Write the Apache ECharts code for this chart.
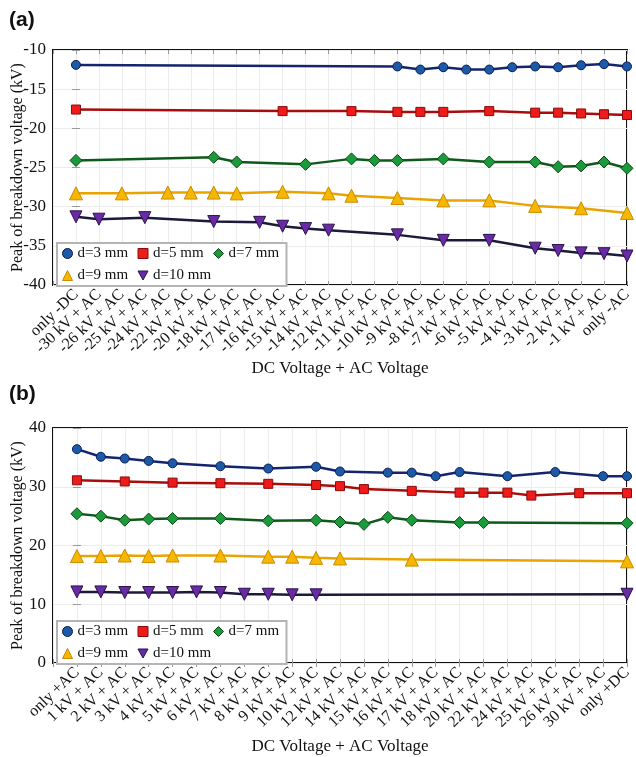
<!DOCTYPE html>
<html>
<head>
<meta charset="utf-8">
<script src="https://cdn.jsdelivr.net/npm/echarts@6/dist/echarts.min.js"></script>
<style>
  html, body { margin: 0; padding: 0; background: #fff; }
  #chart { width: 636px; height: 757px; }
</style>
</head>
<body>
<div id="chart"></div>
<script>
// Panel (a): negative DC bias combined with AC
const catsA = ['only -DC', '-30 kV + AC', '-26 kV + AC', '-25 kV + AC', '-24 kV + AC', '-22 kV + AC',
  '-20 kV + AC', '-18 kV + AC', '-17 kV + AC', '-16 kV + AC', '-15 kV + AC', '-14 kV + AC',
  '-12 kV + AC', '-11 kV + AC', '-10 kV + AC', '-9 kV + AC', '-8 kV + AC', '-7 kV + AC',
  '-6 kV + AC', '-5 kV + AC', '-4 kV + AC', '-3 kV + AC', '-2 kV + AC', '-1 kV + AC', 'only -AC'];
const _ = null;
const a3  = [-11.9, _, _, _, _, _, _, _, _, _, _, _, _, _, -12.1, -12.5, -12.2, -12.5, -12.5, -12.2, -12.1, -12.2, -11.95, -11.8, -12.1];
const a5  = [-17.6, _, _, _, _, _, _, _, _, -17.8, _, _, -17.8, _, -17.9, -17.9, -17.9, _, -17.8, _, -18.0, -18.0, -18.1, -18.2, -18.3];
const a7  = [-24.1, _, _, _, _, _, -23.7, -24.3, _, _, -24.6, _, -23.9, -24.1, -24.1, _, -23.9, _, -24.3, _, -24.3, -24.9, -24.8, -24.3, -25.1];
const a9  = [-28.3, _, -28.3, _, -28.2, -28.2, -28.2, -28.3, _, -28.1, _, -28.3, -28.6, _, -28.9, _, -29.2, _, -29.2, _, -29.9, _, -30.2, _, -30.8];
const a10 = [-31.3, -31.6, _, -31.4, _, _, -31.9, _, -32.0, -32.5, -32.8, -33.0, _, _, -33.6, _, -34.3, _, -34.3, _, -35.3, -35.6, -35.9, -36.0, -36.3];
const yTicksA = { min: -40, max: -10, step: 5 };

// Panel (b): positive DC bias combined with AC
const catsB = ['only +AC', '1 kV + AC', '2 kV + AC', '3 kV + AC', '4 kV + AC', '5 kV + AC',
  '6 kV + AC', '7 kV + AC', '8 kV + AC', '9 kV + AC', '10 kV + AC', '12 kV + AC', '14 kV + AC',
  '15 kV + AC', '16 kV + AC', '17 kV + AC', '18 kV + AC', '20 kV + AC', '22 kV + AC',
  '24 kV + AC', '25 kV + AC', '26 kV + AC', '30 kV + AC', 'only +DC'];
const b3  = [36.4, 35.1, 34.8, 34.4, 34.0, _, 33.5, _, 33.1, _, 33.4, 32.6, _, 32.4, 32.4, 31.8, 32.5, _, 31.8, _, 32.5, _, 31.8, 31.8];
const b5  = [31.1, _, 30.9, _, 30.7, _, 30.6, _, 30.5, _, 30.3, 30.1, 29.6, _, 29.3, _, 29.0, 29.0, 29.0, 28.5, _, 28.9, _, 28.9];
const b7  = [25.4, 25.0, 24.3, 24.5, 24.6, _, 24.6, _, 24.2, _, 24.3, 24.0, 23.6, 24.8, 24.3, _, 23.9, 23.9, _, _, _, _, _, 23.8];
const b9  = [18.2, 18.2, 18.3, 18.2, 18.3, _, 18.3, _, 18.1, 18.1, 17.9, 17.8, _, _, 17.6, _, _, _, _, _, _, _, _, 17.3];
const b10 = [12.1, 12.1, 12.0, 12.0, 12.0, 12.1, 12.0, 11.7, 11.7, 11.6, 11.6, _, _, _, _, _, _, _, _, _, _, _, _, 11.7];
const yTicksB = { min: 0, max: 40, step: 10 };

const seriesNames = ['d=3 mm', 'd=5 mm', 'd=7 mm', 'd=9 mm', 'd=10 mm'];

const SERIF = 'Liberation Serif';
const downTri = 'path://M0,0L10,0L5,9Z';
const styles = [
  { symbol: 'circle',   size: 9,  line: '#14256e', fill: '#1c5aa8', border: '#0c1d52' },
  { symbol: 'rect',     size: 9,  line: '#a80c0c', fill: '#ee1b1b', border: '#8a0a0a' },
  { symbol: 'diamond',  size: 12, line: '#0f5a1b', fill: '#1b9a3b', border: '#0b4715' },
  { symbol: 'triangle', size: 13, line: '#e9a400', fill: '#f7b600', border: '#c98c00' },
  { symbol: downTri,    size: 12, line: '#1c1a3a', fill: '#6a2aa6', border: '#27154a' }
];

const grids = [
  { left: 53, top: 50, width: 574, height: 235 },
  { left: 53, top: 428, width: 574, height: 235 }
];

function toPairs(arr) {
  const out = [];
  arr.forEach((v, i) => { if (v !== null) out.push([i, v]); });
  return out;
}

function bottomX(gi, cats) {
  return {
    type: 'value', gridIndex: gi, position: 'bottom',
    min: -1, max: cats.length - 1, interval: 1,
    axisLine: { show: false },
    axisTick: { show: true, inside: true, length: 4, lineStyle: { color: '#999' } },
    splitLine: { show: true, lineStyle: { color: '#ececec', width: 1 } },
    axisLabel: {
      rotate: 44, margin: 7, fontFamily: SERIF, fontSize: 16, color: '#111',
      showMinLabel: true, showMaxLabel: true, hideOverlap: false,
      formatter: v => (v >= 0 && v < cats.length) ? cats[v] : ''
    },
    name: 'DC Voltage + AC Voltage', nameLocation: 'middle', nameGap: 75,
    nameMoveOverlap: false,
    nameTextStyle: { fontFamily: SERIF, fontSize: 17, color: '#111' }
  };
}
function topX(gi, cats) {
  return {
    type: 'value', gridIndex: gi, position: 'top',
    min: -1, max: cats.length - 1, interval: 1,
    axisLine: { show: false },
    axisTick: { show: true, inside: true, length: 4, lineStyle: { color: '#999' } },
    splitLine: { show: false }, axisLabel: { show: false }
  };
}
function leftY(gi, t) {
  return {
    type: 'value', gridIndex: gi, position: 'left',
    min: t.min, max: t.max, interval: t.step,
    axisLine: { show: false },
    axisTick: { show: true, inside: true, length: 4, lineStyle: { color: '#999' } },
    splitLine: { show: true, lineStyle: { color: '#ececec', width: 1 } },
    axisLabel: { fontFamily: SERIF, fontSize: 17, color: '#111', margin: 7 },
    name: 'Peak of breakdown voltage (kV)', nameLocation: 'middle', nameGap: 27,
    nameMoveOverlap: false,
    nameTextStyle: { fontFamily: SERIF, fontSize: 16, color: '#111' }
  };
}
function rightY(gi, t) {
  return {
    type: 'value', gridIndex: gi, position: 'right',
    min: t.min, max: t.max, interval: t.step,
    axisLine: { show: false },
    axisTick: { show: true, inside: true, length: 4, lineStyle: { color: '#999' } },
    splitLine: { show: false }, axisLabel: { show: false }
  };
}

function panelSeries(values, xi, yi) {
  return values.map((vals, k) => ({
    name: seriesNames[k], type: 'line',
    xAxisIndex: xi, yAxisIndex: yi,
    data: toPairs(vals),
    symbol: styles[k].symbol, symbolSize: styles[k].size,
    lineStyle: { color: styles[k].line, width: 2.5 },
    itemStyle: { color: styles[k].fill, borderColor: styles[k].border, borderWidth: 1 },
    z: 3 + k
  }));
}

function legendFor(top) {
  return {
    left: 57, top: top, width: 230, orient: 'horizontal',
    itemWidth: 10, itemHeight: 10, itemGap: 7,
    padding: [3, 5], borderColor: '#b4b4b4', borderWidth: 2, backgroundColor: '#fff',
    textStyle: { fontFamily: SERIF, fontSize: 15, color: '#111', width: 53, lineHeight: 15 },
    data: seriesNames.map((n, k) => ({
      name: n, icon: styles[k].symbol,
      itemStyle: { color: styles[k].fill, borderColor: styles[k].border, borderWidth: 1 }
    }))
  };
}

const chart = echarts.init(document.getElementById('chart'), null, { renderer: 'canvas' });
chart.setOption({
  backgroundColor: '#fff',
  animation: false,
  title: [
    { text: '(a)', left: 4, top: 5, textStyle: { fontFamily: 'Liberation Sans', fontWeight: 'bold', fontSize: 21, color: '#111' } },
    { text: '(b)', left: 4, top: 379, textStyle: { fontFamily: 'Liberation Sans', fontWeight: 'bold', fontSize: 21, color: '#111' } }
  ],
  grid: grids.map(g => Object.assign({
    show: true, borderColor: '#111', borderWidth: 2, backgroundColor: 'transparent',
    outerBoundsMode: 'none', containLabel: false
  }, g)),
  xAxis: [bottomX(0, catsA), topX(0, catsA), bottomX(1, catsB), topX(1, catsB)],
  yAxis: [leftY(0, yTicksA), rightY(0, yTicksA), leftY(1, yTicksB), rightY(1, yTicksB)],
  legend: [legendFor(243), legendFor(621)],
  series: [
    ...panelSeries([a3, a5, a7, a9, a10], 0, 0),
    ...panelSeries([b3, b5, b7, b9, b10], 2, 2)
  ]
});
</script>
</body>
</html>
